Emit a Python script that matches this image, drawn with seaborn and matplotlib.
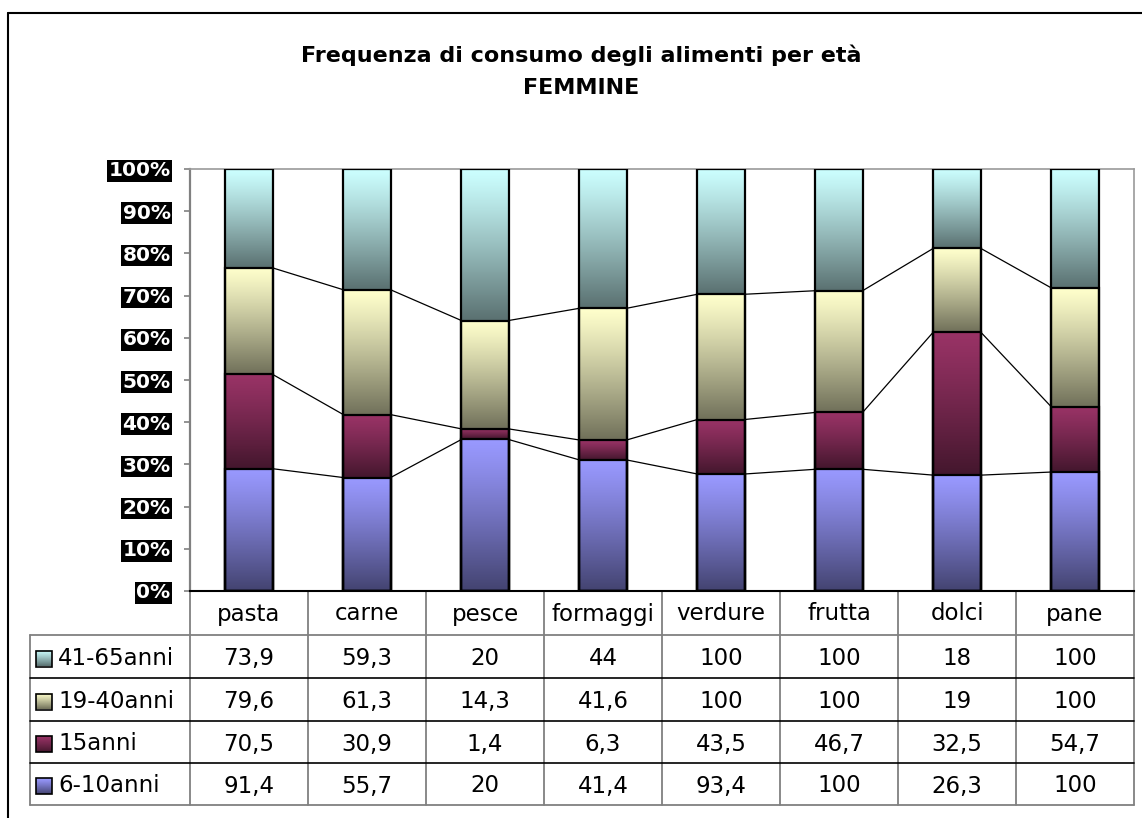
import numpy as np
import pandas as pd
import matplotlib
matplotlib.use("Agg")
import matplotlib.pyplot as plt
import seaborn as sns
from matplotlib.patches import Rectangle

# ---------------- data ----------------
categories = ["pasta", "carne", "pesce", "formaggi", "verdure", "frutta", "dolci", "pane"]
series_names = ["6-10anni", "15anni", "19-40anni", "41-65anni"]
vals_6_10 = [91.4, 55.7, 20, 41.4, 93.4, 100, 26.3, 100]
vals_15 = [70.5, 30.9, 1.4, 6.3, 43.5, 46.7, 32.5, 54.7]
vals_19_40 = [79.6, 61.3, 14.3, 41.6, 100, 100, 19, 100]
vals_41_65 = [73.9, 59.3, 20, 44, 100, 100, 18, 100]
series_colors = ["#9999FF", "#993366", "#FFFFCC", "#CCFFFF"]
yticks = [0, 10, 20, 30, 40, 50, 60, 70, 80, 90, 100]
title_line1 = "Frequenza di consumo degli alimenti per età"
title_line2 = "FEMMINE"

sns.set_style("white")
plt.rcParams["font.family"] = ["DejaVu Sans"]
plt.rcParams["text.color"] = "black"

W, H = 1142, 818
fig = plt.figure(figsize=(W / 100, H / 100), dpi=100)

# background axes in pixel coordinates (frame, title, data table)
bg = fig.add_axes([0, 0, 1, 1])
bg.set_xlim(0, W)
bg.set_ylim(H, 0)
bg.axis("off")

ax_l, ax_r, ax_t, ax_b = 190, 1134, 169, 591
ax = fig.add_axes([ax_l / W, 1 - ax_b / H, (ax_r - ax_l) / W, (ax_b - ax_t) / H])

data = np.array([vals_6_10, vals_15, vals_19_40, vals_41_65], dtype=float)
pct = data / data.sum(axis=0) * 100.0
cum = np.cumsum(pct, axis=0)


def gradient(color, n=128):
    rgb = np.array(matplotlib.colors.to_rgb(color))
    t = np.linspace(0, 1, n)
    f = 1 - 0.56 * t ** 1.15
    return (f[:, None] * rgb[None, :])[:, None, :]


# draw stacked bars (tallest first, overlapping)
bar_patches = {}
for k in reversed(range(4)):
    before = len(ax.patches)
    df = pd.DataFrame({"cat": categories, "v": cum[k]})
    sns.barplot(data=df, x="cat", y="v", order=categories, color=series_colors[k],
                width=0.4, edgecolor="black", linewidth=1.6, ax=ax)
    new = ax.patches[before:]
    bar_patches[k] = new
    for p in new:
        p.set_facecolor("none")
        p.set_zorder(3)

# gradient fills for each visible segment
for k in range(4):
    img = gradient(series_colors[k])
    for i, p in enumerate(bar_patches[k]):
        y0 = cum[k - 1][i] if k > 0 else 0.0
        y1 = cum[k][i]
        x0 = p.get_x()
        ax.imshow(img, extent=(x0, x0 + p.get_width(), y0, y1), origin="upper",
                  aspect="auto", zorder=2, interpolation="bilinear")

# series lines
ref = bar_patches[0]
for k in range(3):
    for i in range(len(categories) - 1):
        xa = ref[i].get_x() + ref[i].get_width()
        xb = ref[i + 1].get_x()
        ax.plot([xa, xb], [cum[k][i], cum[k][i + 1]], color="black", lw=0.9, zorder=1)

ax.set_xlim(-0.5, len(categories) - 0.5)
ax.set_ylim(0, 100)
ax.set_xticks([])
ax.set_yticks(yticks)
ax.set_yticklabels([f"{t}%" for t in yticks])
ax.set_xlabel("")
ax.set_ylabel("")
ax.tick_params(axis="y", left=True, direction="out", length=4, width=1.2, color="#808080",
               pad=10.0, labelsize=14.5, labelcolor="white")
for t in ax.get_yticklabels():
    t.set_fontweight("bold")
    t.set_bbox(dict(facecolor="black", edgecolor="none", pad=0.8))
ax.spines["left"].set_color("#808080")
ax.spines["left"].set_linewidth(1.6)
ax.spines["bottom"].set_color("black")
ax.spines["bottom"].set_linewidth(1.5)
for s in ("top", "right"):
    ax.spines[s].set_color("#9a9a9a")
    ax.spines[s].set_linewidth(1.2)

# ---------------- frame & title ----------------
bg.plot([8, 8], [H + 5, 13], color="black", lw=1.5)
bg.plot([8, W + 5], [13, 13], color="black", lw=1.5)
bg.text(581, 55, title_line1, ha="center", va="center", fontsize=16, fontweight="bold",
        color="black")
bg.text(581, 88, title_line2, ha="center", va="center", fontsize=16, fontweight="bold",
        color="black")

# ---------------- data table ----------------
col_w = (ax_r - ax_l) / len(categories)
tab_left = 30
hdr_top, hdr_bot = ax_b, 635
row_edges = [635, 678, 721, 763, 805]
gray = "#808080"

for j in range(len(categories) + 1):
    x = ax_l + j * col_w
    bg.plot([x, x], [hdr_top, row_edges[-1]], color=gray, lw=1.3)
bg.plot([tab_left, tab_left], [row_edges[0], row_edges[-1]], color=gray, lw=1.3)
bg.plot([tab_left, ax_r], [row_edges[0], row_edges[0]], color=gray, lw=1.3)
for y in row_edges[1:-1]:
    bg.plot([tab_left, ax_r], [y, y], color="black", lw=1.2)
bg.plot([tab_left, ax_r], [row_edges[-1], row_edges[-1]], color=gray, lw=1.3)

for j, c in enumerate(categories):
    bg.text(ax_l + (j + 0.5) * col_w, (hdr_top + hdr_bot) / 2 + 1, c,
            ha="center", va="center", fontsize=16.5, color="black")


def fmt(v):
    return f"{v:g}".replace(".", ",")


table_order = [3, 2, 1, 0]
for r, k in enumerate(table_order):
    yc = (row_edges[r] + row_edges[r + 1]) / 2 + 2
    # legend key
    img = gradient(series_colors[k])
    bg.imshow(img, extent=(36, 52, yc + 8, yc - 8), origin="upper", aspect="auto",
              zorder=2, interpolation="bilinear")
    bg.add_patch(Rectangle((36, yc - 8), 16, 16, facecolor="none", edgecolor="black",
                           lw=1.2, zorder=3))
    bg.text(58, yc, series_names[k], ha="left", va="center", fontsize=16.5, color="black")
    for j in range(len(categories)):
        bg.text(ax_l + (j + 0.5) * col_w, yc, fmt(data[k][j]),
                ha="center", va="center", fontsize=16.5, color="black")

bg.set_xlim(0, W)
bg.set_ylim(H, 0)

fig.savefig("out.png", dpi=100)
